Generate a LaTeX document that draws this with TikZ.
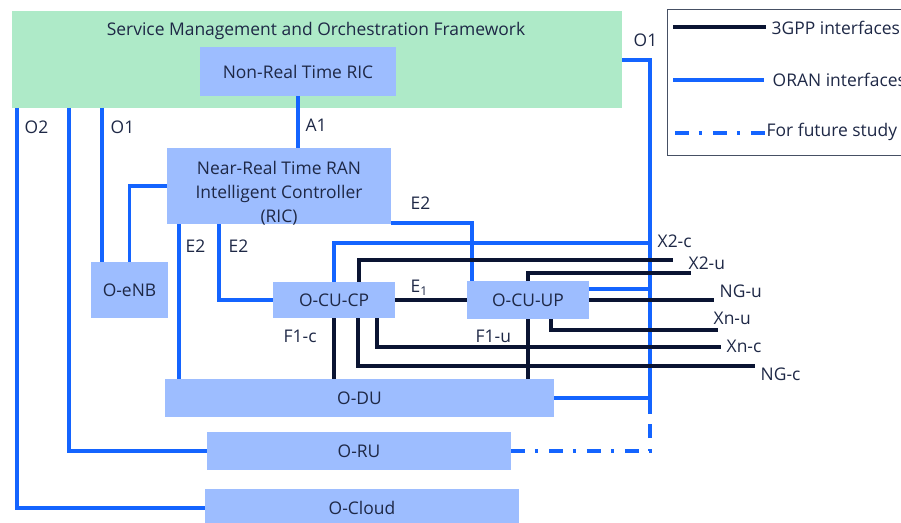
\documentclass[tikz,border=0pt]{standalone}
\usepackage{fontspec}
\setmainfont{Open Sans}
\usetikzlibrary{positioning,calc}
\definecolor{smogreen}{RGB}{174,234,200}
\definecolor{boxblue}{RGB}{157,189,255}
\definecolor{oranblue}{RGB}{20,100,255}
\definecolor{gppnavy}{RGB}{10,20,50}
\definecolor{textnavy}{RGB}{30,40,70}
\definecolor{legendgray}{RGB}{70,80,100}

\begin{document}
\begin{tikzpicture}[x=0.025cm,y=-0.025cm,
    font=\fontsize{12.4}{17}\selectfont, text=textnavy,
    block/.style={fill=boxblue, inner sep=0pt, outer sep=0pt, align=center},
    oran/.style={draw=oranblue, line width=2.4pt},
    gpp/.style={draw=gppnavy, line width=2.7pt},
    future/.style={oran, dash pattern=on 10pt off 7pt on 2pt off 8pt},
    lbl/.style={inner sep=1pt, anchor=west}]
\useasboundingbox (0,0) rectangle (901,523);

	% boxes
	\node[fill=smogreen, inner sep=0pt, minimum width=15.25cm, minimum height=2.425cm] (smo) at (317,59.5) {};
	\node (smotitle) at (316,31) {Service Management and Orchestration Framework};
	\node[block, minimum width=4.9cm, minimum height=1.225cm] (nonrt) at (298,71.5) {Non-Real Time RIC};
	\node[block, minimum width=5.6cm, minimum height=1.9cm] (ric) at (279,186) {};
	\node[align=center, inner sep=0pt] (rictext) at (279,193) {Near-Real Time RAN\\Intelligent Controller\\(RIC)};
	\node[block, minimum width=1.925cm, minimum height=1.4cm] (oenb) at (129.5,290) {O-eNB};
	\node[block, minimum width=3.05cm, minimum height=0.9cm] (cucp) at (334,300) {O-CU-CP};
	\node[block, minimum width=3.05cm, minimum height=0.95cm] (cuup) at (528,300) {O-CU-UP};
	\node[block, minimum width=9.725cm, minimum height=0.95cm] (odu) at (359.5,398) {O-DU};
	\node[block, minimum width=7.6cm, minimum height=0.95cm] (oru) at (359,451) {O-RU};
	\node[block, minimum width=7.85cm, minimum height=0.95cm] (ocloud) at (362,508) {O-Cloud};

	% free ends
	\coordinate (o2) at (17,108);
	\coordinate (rul) at (69,108);
	\coordinate (o1l) at (102,108);
	\coordinate (e2du) at (179,0);
	\coordinate (e2cp) at (219,0);
	\coordinate (o1r) at (650,60);
	\coordinate (fs) at (650,413);
	\coordinate (x2c) at (650,243);
	\coordinate (x2u) at (673,260);
	\coordinate (ngut) at (691,273);
	\coordinate (ngu) at (714,300);
	\coordinate (xnu) at (718,330);
	\coordinate (xnc) at (721,347);
	\coordinate (ngc) at (755,366);

	% ORAN interfaces
	\draw[oran] (nonrt.south) -- (nonrt.south |- ric.north);
	\draw[oran] (o2) |- (ocloud);
	\draw[oran] (rul) |- (oru);
	\draw[oran] (o1l) -- (o1l |- oenb.north);
	\draw[oran] (ric) -| (oenb);
	\draw[oran] (ric.south -| e2du) -- (e2du |- odu.north);
	\draw[oran] (ric.south -| e2cp) |- (cucp);
	\draw[oran] ($(ric.south east)+(0,-1)$) -| ($(cuup.north west)+(5,0)$);
	\draw[oran] (cucp) |- (x2c);
	\draw[oran] (smo.east |- o1r) -| (fs);
	\draw[future] (oru) -| (fs);
	\draw[oran] (odu) -- (odu -| o1r);
	\draw[oran] ($(cuup.east)+(0,-11)$) -- (o1r |- 0,289);

	% 3GPP interfaces
	\draw[gpp] (cucp) -- (cuup);
	\draw[gpp] (cucp) -- (cucp |- odu.north);
	\draw[gpp] (cuup) -- (cuup |- odu.north);
	\draw[gpp] ($(cucp.north)+(25,0)$) |- (x2u);
	\draw[gpp] (cuup.north) |- (ngut);
	\draw[gpp] (cuup.east) -- (ngu);
	\draw[gpp] ($(cuup.south)+(23,0)$) |- (xnu);
	\draw[gpp] ($(cucp.south)+(43,0)$) |- (xnc);
	\draw[gpp] ($(cucp.south)+(24,0)$) |- (ngc);

	% labels
	\node[lbl] (lo2) at (23,127) {O2};
	\node[lbl] (lo1) at (109,127) {O1};
	\node[lbl] (la1) at (304,125) {A1};
	\node[lbl] (lo1r) at (632,40) {O1};
	\node[lbl] (le2du) at (184,246) {E2};
	\node[lbl] (le2cp) at (227,246) {E2};
	\node[lbl] (le2up) at (409,203) {E2};
	\node[lbl] (le1) at (409,288) {E\textsubscript{1}};
	\node[lbl] (lf1c) at (282,336) {F1-c};
	\node[lbl] (lf1u) at (474,336) {F1-u};
	\node[lbl] (lx2c) at (656,241) {X2-c};
	\node[lbl] (lx2u) at (687,263) {X2-u};
	\node[lbl] (lngu) at (718,291) {NG-u};
	\node[lbl] (lxnu) at (712,318) {Xn-u};
	\node[lbl] (lxnc) at (725,346) {Xn-c};
	\node[lbl] (lngc) at (759,374) {NG-c};

	% legend
	\node[draw=legendgray, line width=0.9pt, anchor=north west, inner sep=0pt, minimum width=6.1cm, minimum height=3.65cm] (legend) at (667,9) {};
	\node[lbl] (lg3gpp) at (770,28) {3GPP interfaces};
	\node[lbl] (lgoran) at (771,80) {ORAN interfaces};
	\node[lbl] (lgfs) at (765,132) {For future study};
	\draw[gpp] ($(legend.west |- lg3gpp)+(6,-1)$) -- ($(lg3gpp.west)+(-4,-1)$);
	\draw[oran] ($(legend.west |- lgoran)+(6,0)$) -- ($(lgoran.west)+(-7,0)$);
	\draw[future] ($(legend.west |- lgfs)+(8,1)$) -- ($(lgfs.west)+(0,1)$);
\end{tikzpicture}
\end{document}
